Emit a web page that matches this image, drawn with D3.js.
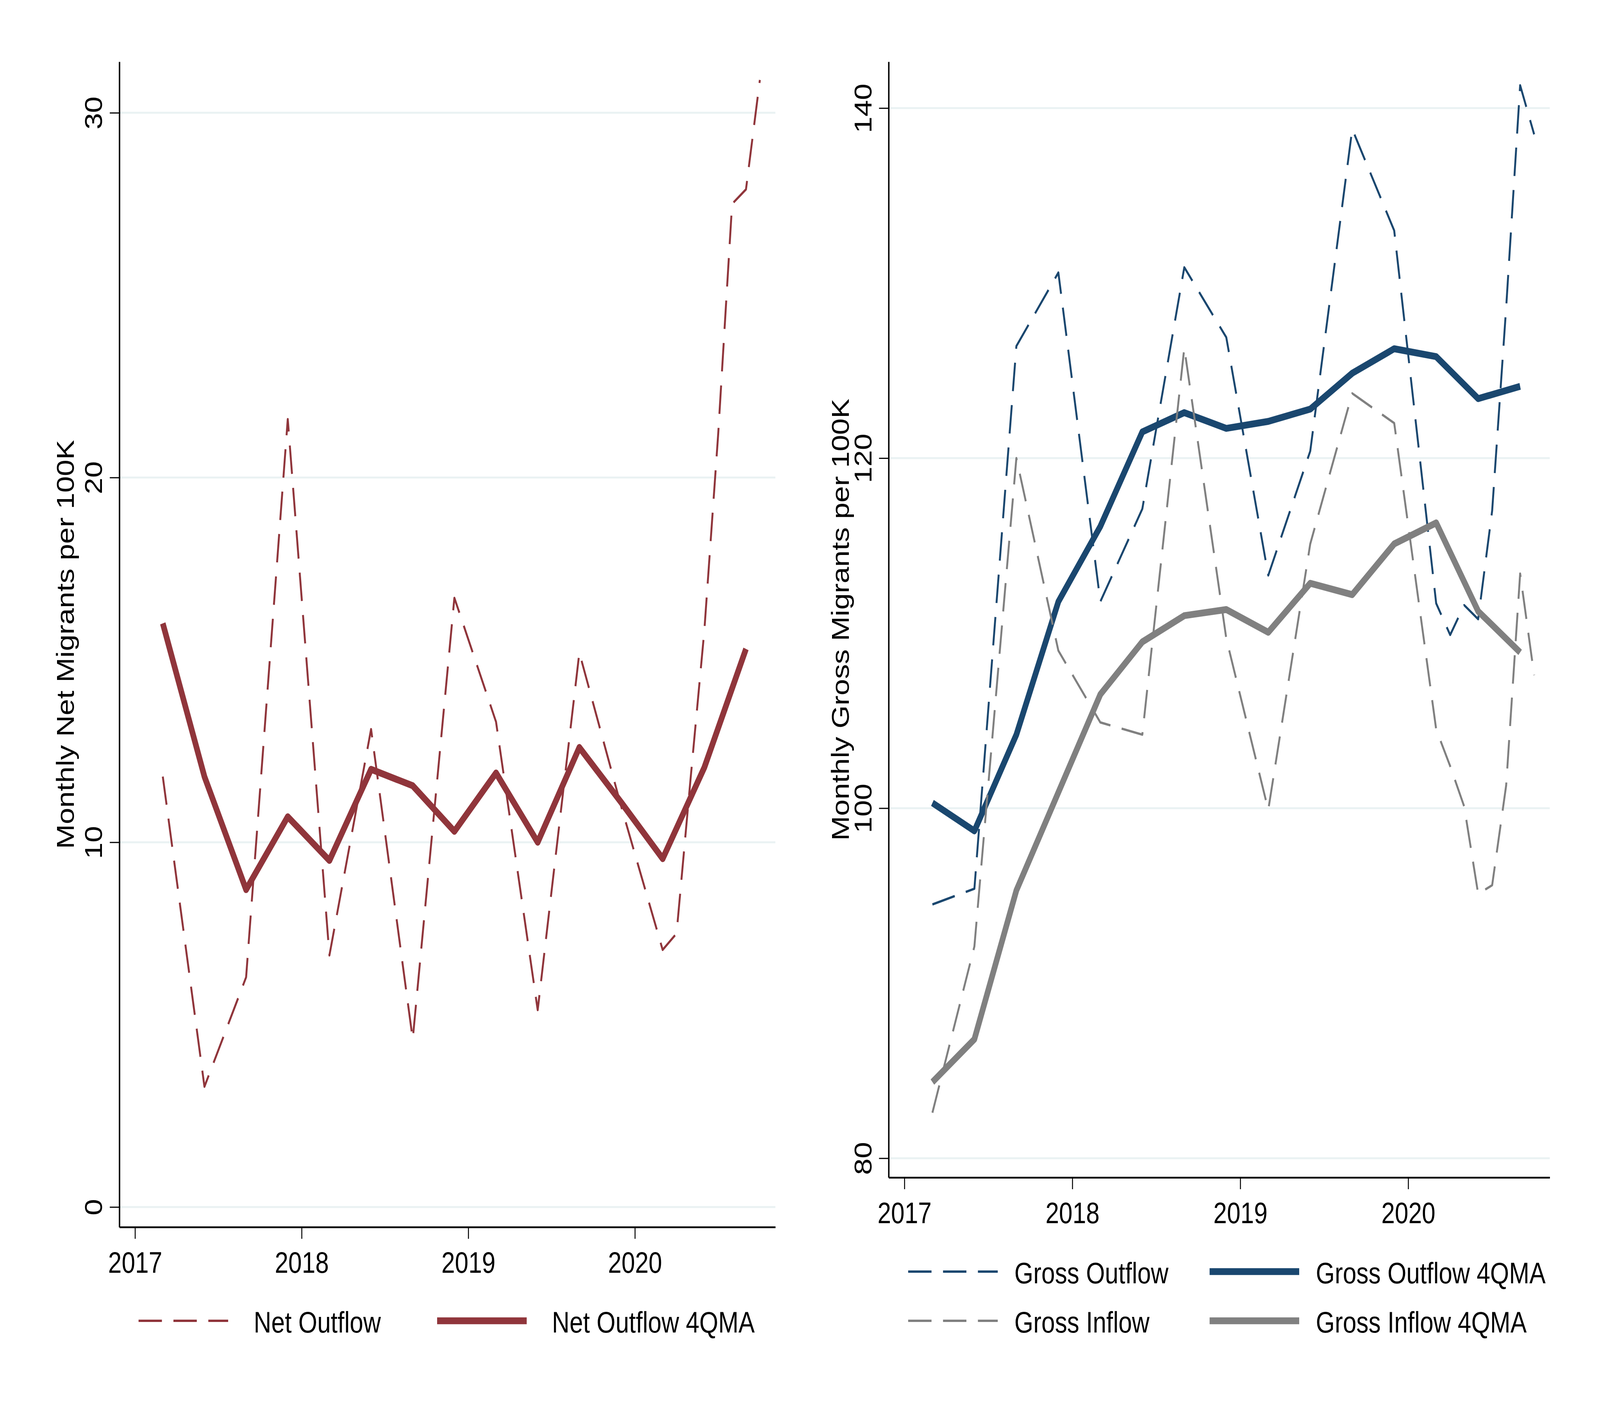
<!DOCTYPE html>
<html>
<head>
<meta charset="utf-8">
<script src="https://cdn.jsdelivr.net/npm/d3@7"></script>
<style>
  html, body { margin: 0; padding: 0; background: #fff; overflow: hidden; }
  svg text { font-family: "Liberation Sans", Arial, sans-serif; fill: #000; }
</style>
</head>
<body>
<div id="chart"></div>
<script>
// Dates of the 4-quarter moving averages (quarterly)
const quarterDates = ["2017-03", "2017-06", "2017-09", "2017-12",
                      "2018-03", "2018-06", "2018-09", "2018-12",
                      "2019-03", "2019-06", "2019-09", "2019-12",
                      "2020-03", "2020-06", "2020-09"];
// Dates of the raw series: quarterly, then monthly from March 2020
const rawDates = ["2017-03", "2017-06", "2017-09", "2017-12",
                  "2018-03", "2018-06", "2018-09", "2018-12",
                  "2019-03", "2019-06", "2019-09", "2019-12",
                  "2020-03", "2020-04", "2020-05", "2020-06",
                  "2020-07", "2020-08", "2020-09", "2020-10"];

const netOutflow = [11.8, 3.3, 6.3, 21.6, 6.9, 13.1, 4.6, 16.7, 13.3, 5.4, 15.2, 11.0,
                    7.05, 7.5, 11.7, 15.8, 21.2, 27.5, 27.9, 30.9];
const netOutflow4QMA = [16.0, 11.8, 8.7, 10.7, 9.5, 12.0, 11.55, 10.3, 11.9, 10.0, 12.6, 11.1,
                        9.55, 12.05, 15.3];

const grossOutflow = [94.5, 95.4, 126.4, 130.6, 111.8, 117.1, 130.9, 126.9, 113.3, 120.4, 138.8, 133.0,
                      111.7, 109.9, 111.6, 110.8, 117.0, 128.6, 141.3, 138.5];
const grossOutflow4QMA = [100.3, 98.7, 104.2, 111.8, 116.1, 121.5, 122.6, 121.7, 122.1, 122.8, 124.85, 126.25,
                          125.8, 123.4, 124.1];
const grossInflow = [82.6, 92.1, 120.0, 109.0, 104.9, 104.2, 126.3, 109.7, 99.9, 115.1, 123.7, 122.0,
                     104.5, 102.4, 100.1, 95.1, 95.6, 101.3, 113.4, 107.6];
const grossInflow4QMA = [84.35, 86.8, 95.3, 100.9, 106.5, 109.5, 111.0, 111.35, 110.05, 112.85, 112.2, 115.1,
                         116.3, 111.25, 108.9];

const xTickYears = [2017, 2018, 2019, 2020];
const netTicks = [0, 10, 20, 30];
const grossTicks = [80, 100, 120, 140];

const CRANBERRY = "#90353b", NAVY = "#1a476f", GRAY = "#808080";
const FONT = 76;
const W = 5000, H = 3636;

// "2017-03" -> 2017.1667 (monthly spacing, like a Stata %tm axis)
const toYear = s => {
    const [yy, mm] = s.split("-").map(Number);
    return yy + (mm - 1) / 12;
};

// drawn in a 5000x3636 user space, stretched over the whole viewport
// (the browser caps the window width, so this keeps the 5000x3636 layout)
const svg = d3.select("#chart").append("svg")
    .attr("viewBox", `0 0 ${W} ${H}`)
    .attr("preserveAspectRatio", "none")
    .style("width", "100vw")
    .style("height", "100vh")
    .style("display", "block");

function drawPanel(cfg) {
    const x = d3.scaleLinear().domain([2016.906, 2020.843]).range([cfg.left, cfg.right]);
    const y = d3.scaleLinear().domain(cfg.yDomain).range([cfg.bottom, cfg.top]);
    const g = svg.append("g");

    // gridlines
    g.selectAll(".grid")
        .data(cfg.yTicks)
        .enter().append("line")
        .attr("x1", cfg.left).attr("x2", cfg.right)
        .attr("y1", d => y(d)).attr("y2", d => y(d))
        .attr("stroke", "#eaf2f3")
        .attr("stroke-width", 5);

    // the lines themselves
    const line = d3.line().x(d => x(d.t)).y(d => y(d.v));
    cfg.series.forEach(s => {
        const pts = s.dates.map((d, i) => ({ t: toYear(d), v: s.values[i] }));
        g.append("path")
            .datum(pts)
            .attr("fill", "none")
            .attr("stroke", s.color)
            .attr("stroke-width", s.dashed ? 6 : 17.5)
            .attr("stroke-dasharray", s.dashed ? "73,36" : null)
            .attr("stroke-linejoin", "round")
            .attr("d", line);
    });

    // y axis, labels rotated like Stata does by default
    const yAxis = g.append("g")
        .attr("transform", `translate(${cfg.left},0)`)
        .call(d3.axisLeft(y).tickValues(cfg.yTicks).tickSize(30).tickSizeOuter(0));
    yAxis.select(".domain").attr("stroke-width", 4.5);
    yAxis.selectAll(".tick line").attr("stroke-width", 3);
    yAxis.selectAll(".tick text")
        .attr("transform", "rotate(-90)")
        .attr("x", 0)
        .attr("y", -54)
        .attr("dy", null)
        .attr("text-anchor", "middle")
        .style("font-size", FONT + "px");

    // x axis
    const xAxis = g.append("g")
        .attr("transform", `translate(0,${cfg.bottom})`)
        .call(d3.axisBottom(x).tickValues(xTickYears).tickFormat(d3.format("d"))
            .tickSize(30).tickSizeOuter(0));
    xAxis.select(".domain").attr("stroke-width", 4.5);
    xAxis.selectAll(".tick line").attr("stroke-width", 3);
    xAxis.selectAll(".tick text")
        .attr("y", 117)
        .attr("dy", null)
        .style("font-size", FONT + "px");

    // axis title
    g.append("text")
        .attr("transform", `translate(${cfg.titleX},${(cfg.top + cfg.bottom) / 2}) rotate(-90)`)
        .attr("text-anchor", "middle")
        .style("font-size", FONT + "px")
        .text(cfg.title);

    // legend
    cfg.legend.forEach(l => {
        const s = cfg.series[l.idx];
        g.append("line")
            .attr("x1", l.x1).attr("x2", l.x1 + 280)
            .attr("y1", l.y).attr("y2", l.y)
            .attr("stroke", s.color)
            .attr("stroke-width", s.dashed ? 6 : 17.5)
            .attr("stroke-dasharray", s.dashed ? "73,36" : null);
        g.append("text")
            .attr("x", l.tx)
            .attr("y", l.y + 30)
            .style("font-size", FONT + "px")
            .text(s.label);
    });
}

drawPanel({
    left: 373, right: 2423, top: 158, bottom: 3142,
    yDomain: [-0.55, 31.4],
    yTicks: netTicks,
    titleX: 231,
    title: "Monthly Net Migrants per 100K",
    series: [
        { label: "Net Outflow", dates: rawDates, values: netOutflow, color: CRANBERRY, dashed: true },
        { label: "Net Outflow 4QMA", dates: quarterDates, values: netOutflow4QMA, color: CRANBERRY, dashed: false }
    ],
    legend: [
        { idx: 0, x1: 433, tx: 793, y: 3382 },
        { idx: 1, x1: 1366, tx: 1725, y: 3382 }
    ]
});

drawPanel({
    left: 2777, right: 4843, top: 158, bottom: 3015,
    yDomain: [78.9, 142.65],
    yTicks: grossTicks,
    titleX: 2652,
    title: "Monthly Gross Migrants per 100K",
    series: [
        { label: "Gross Outflow", dates: rawDates, values: grossOutflow, color: NAVY, dashed: true },
        { label: "Gross Outflow 4QMA", dates: quarterDates, values: grossOutflow4QMA, color: NAVY, dashed: false },
        { label: "Gross Inflow", dates: rawDates, values: grossInflow, color: GRAY, dashed: true },
        { label: "Gross Inflow 4QMA", dates: quarterDates, values: grossInflow4QMA, color: GRAY, dashed: false }
    ],
    legend: [
        { idx: 0, x1: 2838, tx: 3170, y: 3256 },
        { idx: 1, x1: 3780, tx: 4112, y: 3256 },
        { idx: 2, x1: 2838, tx: 3170, y: 3382 },
        { idx: 3, x1: 3780, tx: 4112, y: 3382 }
    ]
});
</script>
</body>
</html>
